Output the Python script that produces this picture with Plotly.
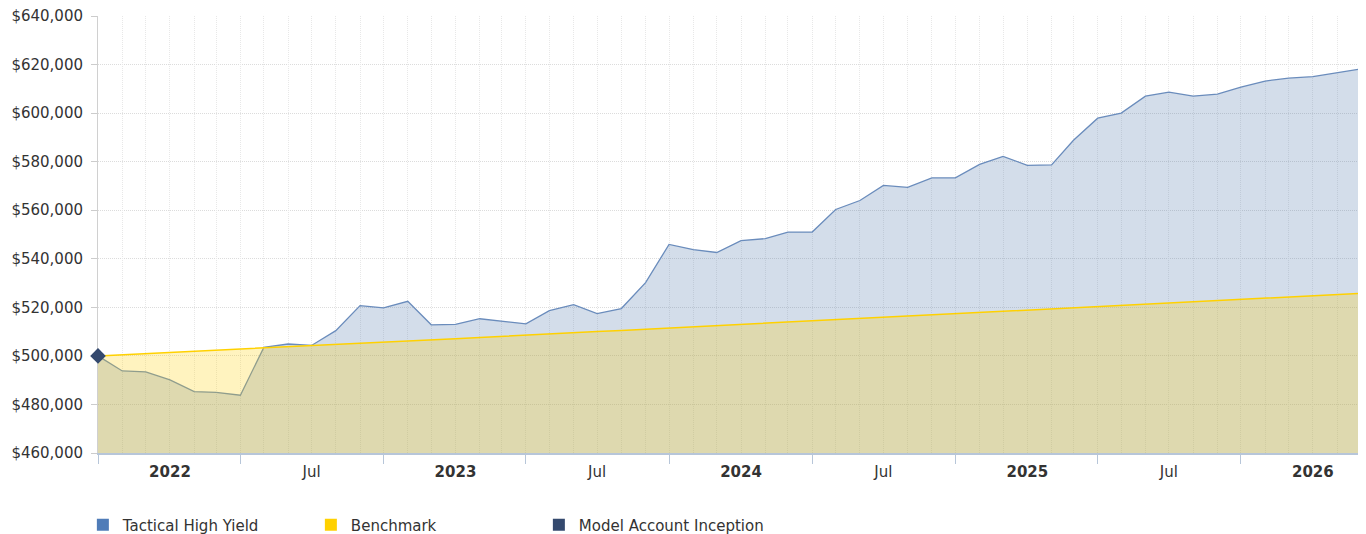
import plotly.graph_objects as go
import pandas as pd

# ---- data (monthly) ----
months = pd.date_range("2021-10-01", periods=54, freq="MS")

tactical = [
    500000, 493800, 493400, 490100, 485300, 485000, 483800, 503500, 504900, 504300,
    510400, 520700, 519800, 522500, 512800, 513000, 515300, 514300, 513200, 518600,
    521100, 517400, 519500, 530200, 545900, 543800, 542600, 547500, 548300, 551000,
    551000, 560300, 564000, 570200, 569400, 573300, 573300, 578900, 582200, 578500,
    578700, 588800, 597900, 600000, 607000, 608600, 607000, 607800, 610700, 613200,
    614400, 615000, 616500, 618100,
]

benchmark = [
    500000, 500500, 500900, 501400, 501900, 502400, 502800, 503300, 503800, 504300,
    504700, 505200, 505700, 506200, 506700, 507100, 507600, 508100, 508600, 509100,
    509500, 510000, 510500, 511000, 511500, 512000, 512500, 513000, 513400, 513900,
    514400, 514900, 515400, 515900, 516400, 516900, 517400, 517900, 518400, 518900,
    519400, 519900, 520400, 520900, 521400, 521900, 522400, 522900, 523400, 523900,
    524400, 524900, 525400, 525700,
]

inception_date = ["2021-10-01"]
inception_value = [500000]

label_dates = ["2022-01-01", "2022-07-01", "2023-01-01", "2023-07-01", "2024-01-01",
               "2024-07-01", "2025-01-01", "2025-07-01", "2026-01-01"]
label_text = ["<b>2022</b>", "Jul", "<b>2023</b>", "Jul", "<b>2024</b>",
              "Jul", "<b>2025</b>", "Jul", "<b>2026</b>"]
tick_dates = ["2021-10-01", "2022-04-01", "2022-10-01", "2023-04-01", "2023-10-01",
              "2024-04-01", "2024-10-01", "2025-04-01", "2025-10-01"]

series_names = ["Tactical High Yield", "Benchmark", "Model Account Inception"]
yellow = "#FFD100"
navy = "#34496E"

fig = go.Figure()

# Tactical area
fig.add_trace(go.Scatter(
    x=months, y=tactical, mode="lines", fill="tozeroy",
    line=dict(color="#6A8CBC", width=1.3),
    fillcolor="rgba(69,114,167,0.24)", showlegend=False, name=series_names[0],
))
# Benchmark area
fig.add_trace(go.Scatter(
    x=months, y=benchmark, mode="lines", fill="tozeroy",
    line=dict(color=yellow, width=1.5),
    fillcolor="rgba(255,209,0,0.25)", showlegend=False, name=series_names[1],
))
# Inception marker
fig.add_trace(go.Scatter(
    x=inception_date, y=inception_value, mode="markers",
    marker=dict(symbol="diamond", size=12, color=navy),
    cliponaxis=False, showlegend=False, name=series_names[2],
))

# legend entries (square swatches)
for nm, col in zip(series_names, ["#4F7CB8", yellow, navy]):
    fig.add_trace(go.Scatter(
        x=[None], y=[None], mode="markers", name=nm,
        marker=dict(symbol="square", size=12, color=col),
    ))

# helper trace for the monthly-grid axis
fig.add_trace(go.Scatter(
    x=[months[0]], y=[inception_value[0]], xaxis="x2", mode="none",
    showlegend=False, hoverinfo="skip",
))

xrange = [months[0], months[-1]]

# page body has an 8px margin, so the figure is sized/offset for it
fig.update_layout(
    width=1358, height=526,
    margin=dict(l=90, r=7, t=8, b=81, autoexpand=False),
    paper_bgcolor="white", plot_bgcolor="white",
    font=dict(family="DejaVu Sans", size=15, color="#333333"),
    showlegend=True,
    legend=dict(
        orientation="h", x=-0.012, y=-0.165, xanchor="left", yanchor="middle",
        entrywidth=183, entrywidthmode="pixels",
        font=dict(size=15, color="#333333"), bgcolor="rgba(0,0,0,0)",
        itemclick=False,
    ),
    xaxis=dict(
        type="date", range=xrange, tickmode="array",
        tickvals=label_dates, ticktext=label_text, automargin=False,
        ticks="", showgrid=False, showline=True, linecolor="#B7C6D9", linewidth=2,
        zeroline=False, ticklabelstandoff=4, layer="below traces",
        ticklabeloverflow="allow",
        minor=dict(tickmode="array", tickvals=tick_dates, ticks="outside",
                   ticklen=9, tickcolor="#B7C6D9", tickwidth=1, showgrid=False),
    ),
    xaxis2=dict(
        type="date", overlaying="x", anchor="y", side="bottom", range=xrange,
        tickmode="linear", tick0="2021-10-01", dtick="M1", automargin=False,
        showticklabels=False, ticks="", showgrid=True, gridcolor="#E8E8E8",
        griddash="1px,1px", gridwidth=1, showline=False, zeroline=False,
    ),
    yaxis=dict(
        range=[460000, 640000], tickmode="linear", tick0=460000, dtick=20000,
        tickformat="$,.0f", showgrid=True, gridcolor="#DCDCDC", griddash="1px,1px",
        ticks="outside", ticklen=6, tickcolor="#CCCCCC", automargin=False,
        ticklabelstandoff=5, ticklabeloverflow="allow",
        showline=True, linecolor="#D0D0D0", linewidth=1, zeroline=False,
        layer="below traces",
    ),
)

fig.write_html("out.html")
